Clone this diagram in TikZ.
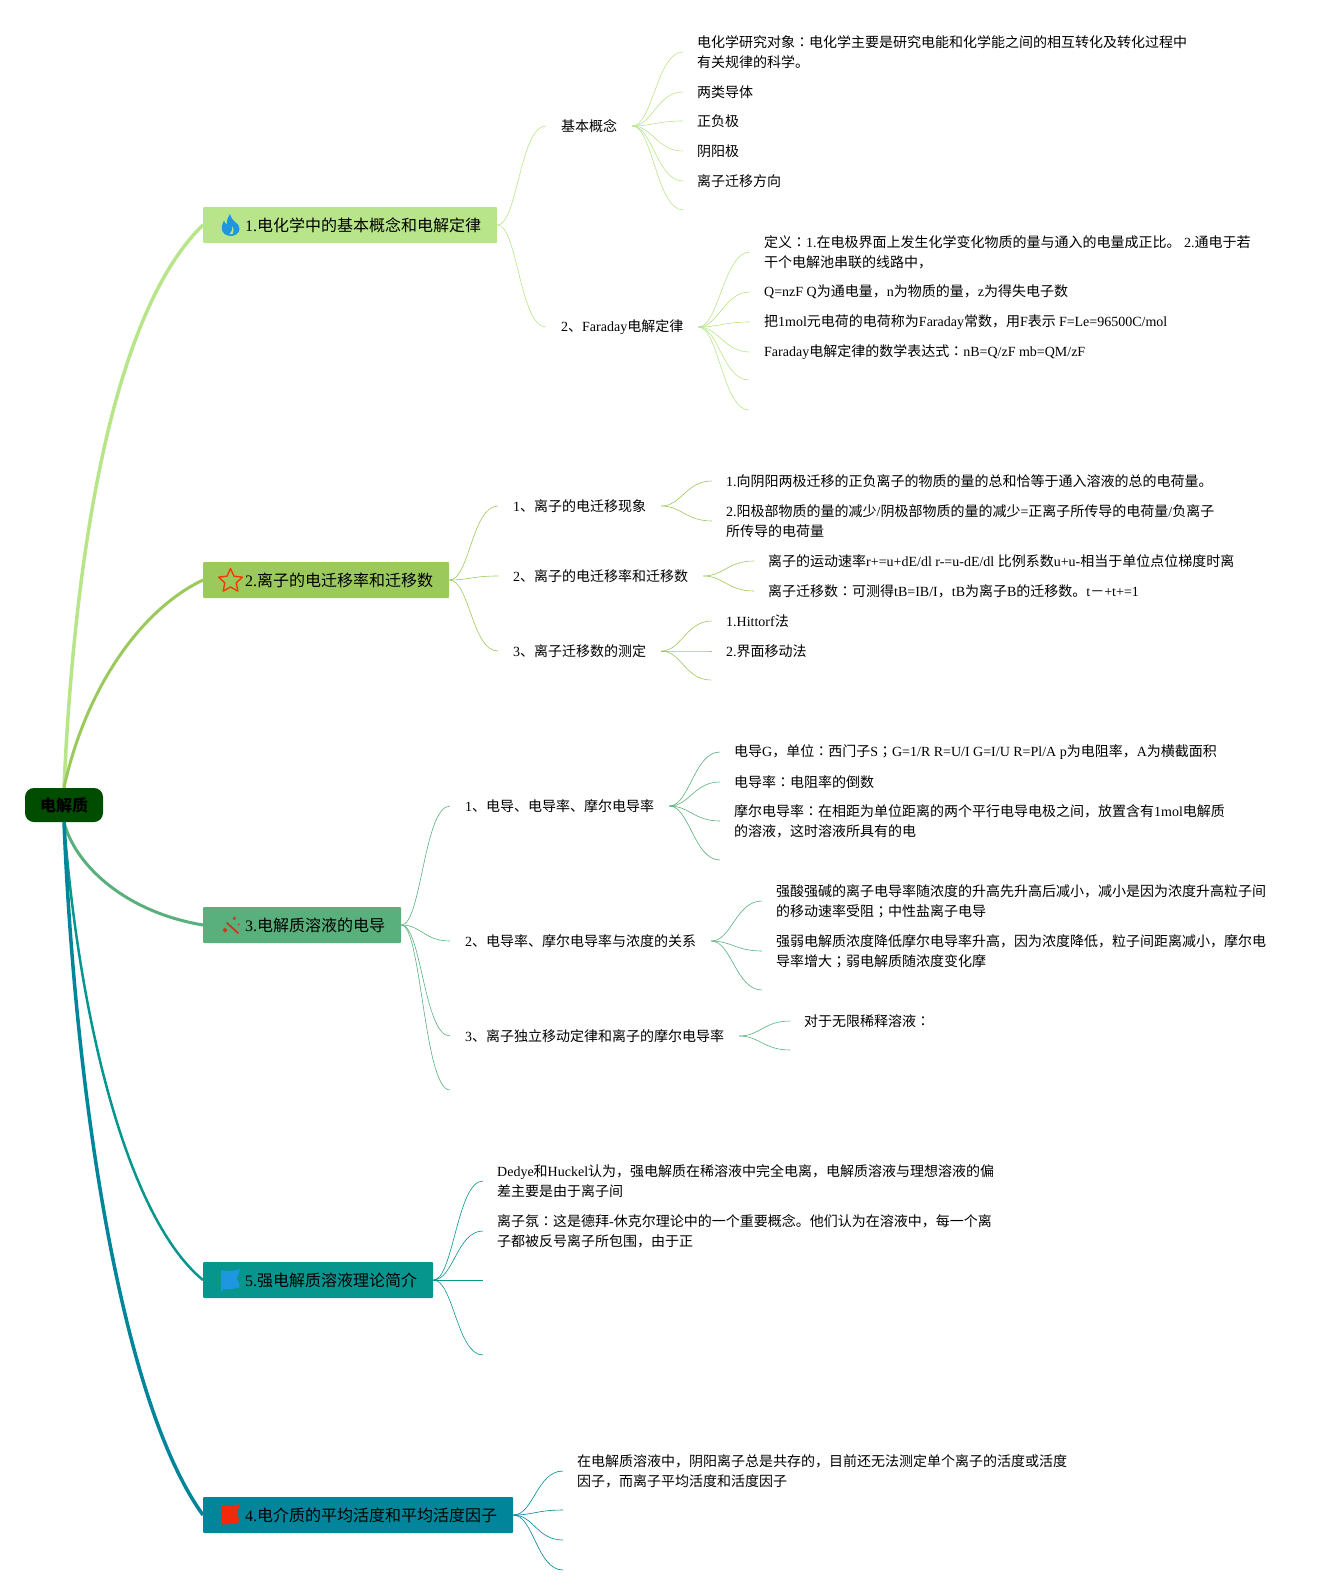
\documentclass[tikz,border=0pt]{standalone}
\usepackage{fontspec}
\setmainfont{Noto Sans CJK SC}
\newfontfamily\enfont{Liberation Serif}
\newfontfamily\tcfont{Noto Sans CJK TC}
\newcommand{\la}[1]{{\enfont #1}}
\newcommand{\pc}[1]{{\tcfont #1}}
\newcommand{\bt}[1]{\hspace*{26pt}\raisebox{-1pt}{#1}}
\usetikzlibrary{shapes.geometric,calc}
\definecolor{cone}{HTML}{B8E58A}
\definecolor{ctwo}{HTML}{9CC95B}
\definecolor{cthree}{HTML}{5AB07C}
\definecolor{cfive}{HTML}{06968E}
\definecolor{cfour}{HTML}{00859A}
\definecolor{croot}{HTML}{004D00}
\definecolor{iblue}{HTML}{1E96E0}
\definecolor{ired}{HTML}{F02A0A}
\definecolor{iwand}{HTML}{C8391F}

\begin{document}
\begin{tikzpicture}[x=1pt,y=-1pt]
\tikzstyle{rt} = [fill=croot,rounded corners=9pt,minimum width=78pt,minimum height=34pt,inner sep=0pt,font=\fontsize{16}{20}\selectfont\bfseries]
\tikzstyle{bn} = [anchor=west,rounded corners=1pt,minimum height=36pt,inner xsep=16pt,inner ysep=0pt,font=\fontsize{16}{20}\selectfont]
\tikzstyle{sb} = [anchor=west,inner xsep=15pt,inner ysep=0pt,font=\fontsize{14}{20.3}\selectfont]
\tikzstyle{item} = [anchor=west,align=left,inner xsep=14pt,inner ysep=0pt,font=\fontsize{14}{20.3}\selectfont]
\tikzstyle{fan} = [line width=.6pt,to path={.. controls ($(\tikztostart)+(20,0)$) and ($(\tikztotarget)+(-26,0)$) .. (\tikztotarget)}]
\useasboundingbox (0,0) rectangle (1336,1595);
% main topics
\node[rt] (root) at (64,805) {\raisebox{-1pt}{电解质}};
\node[bn,fill=cone] (b1) at (203,225) {\bt{\la{1.}电化学中的基本概念和电解定律}};
\node[bn,fill=ctwo] (b2) at (203,580) {\bt{\la{2.}离子的电迁移率和迁移数}};
\node[bn,fill=cthree] (b3) at (203,925) {\bt{\la{3.}电解质溶液的电导}};
\node[bn,fill=cfive] (b5) at (203,1280) {\bt{\la{5.}强电解质溶液理论简介}};
\node[bn,fill=cfour] (b4) at (203,1515) {\bt{\la{4.}电介质的平均活度和平均活度因子}};
\draw [cone,line width=3.5pt] (root.north) .. controls (77,500) and (125,300) .. (b1.west);
\draw [ctwo,line width=3pt] (root.north) .. controls (85,690) and (140,610) .. (b2.west);
\draw [cthree,line width=3pt] (root.south) .. controls (75,865) and (125,912) .. (b3.west);
\draw [cfive,line width=2.5pt] (root.south) .. controls (80,1030) and (130,1220) .. (b5.west);
\draw [cfour,line width=3.5pt] (root.south) .. controls (75,1090) and (120,1400) .. (b4.west);
% icons
\fill[iblue] (230,214) .. controls (231,218) and (233,220) .. (235,222) .. controls (238,224) and (239.5,226) .. (239.5,229) .. controls (239.5,233) and (235,236) .. (231,236) .. controls (226,236) and (221.7,233) .. (221.7,228) .. controls (221.7,225) and (223,223) .. (224,220.5) .. controls (224.5,222.5) and (225.5,223.5) .. (227,224.5) .. controls (226.5,220) and (228,217) .. (230,214) -- cycle;
\fill[cone] (232,226) .. controls (233,229) and (235,231) .. (233,233.5) .. controls (232,234.5) and (230,234.5) .. (229.5,234) .. controls (232,232) and (233,229) .. (232,226) -- cycle;
\node[star,star points=5,star point ratio=2.1,minimum size=25pt,inner sep=0pt,draw=ired!80!orange,line width=1.4pt,line join=round] (ic2) at (230.5,581) {};
\draw[iwand,line width=1.8pt] (226.7,922.7) -- (238.3,933.3);
\fill[iwand] (234.3,916.3) -- (236,918.3) -- (234.3,920.3) -- (232.6,918.3) -- cycle;
\fill[iwand] (238.7,923.3) -- (239.7,924.3) -- (238.7,925.3) -- (237.7,924.3) -- cycle;
\fill[iwand] (225,927.5) -- (227.5,930) -- (225,932.5) -- (222.5,930) -- cycle;
\fill[iblue] (221,1270) .. controls (227,1272) and (234,1271) .. (240,1269) -- (237,1278) -- (240,1287) .. controls (234,1289) and (227,1290) .. (222,1289) -- (222,1292) -- (221,1292) -- cycle;
\fill[ired] (221,1505) .. controls (227,1507) and (234,1506) .. (240,1504) -- (237,1513) -- (240,1522) .. controls (234,1524) and (227,1525) .. (222,1524) -- (222,1527) -- (221,1527) -- cycle;
% topic 1
\node[sb] (s1) at (546,126) {基本概念};
\node[sb] (s2) at (546,327) {\la{2}、\la{Faraday}电解定律};
\node[item] (a1) at (683,52) {电化学研究对象\pc{：}电化学主要是研究电能和化学能之间的相互转化及转化过程中\\有关规律的科学。};
\node[item] (a2) at (683,92) {两类导体};
\node[item] (a3) at (683,121) {正负极};
\node[item] (a4) at (683,151) {阴阳极};
\node[item] (a5) at (683,181) {离子迁移方向};
\coordinate (a6) at (683,210);
\node[item] (c1) at (750,252) {定义\pc{：}\la{1.}在电极界面上发生化学变化物质的量与通入的电量成正比。\la{ 2.}通电于若\\干个电解池串联的线路中，};
\node[item] (c2) at (750,292) {\la{Q=nzF Q}为通电量，\la{n}为物质的量，\la{z}为得失电子数};
\node[item] (c3) at (750,322) {把\la{1mol}元电荷的电荷称为\la{Faraday}常数，用\la{F}表示 \la{F=Le=96500C/mol}};
\node[item] (c4) at (750,352) {\la{Faraday}电解定律的数学表达式\pc{：}\la{nB=Q/zF mb=QM/zF}};
\coordinate (c5) at (749,380);
\coordinate (c6) at (749,410);
\draw[cone,fan] (b1.east) to (s1.west);
\draw[cone,fan] (b1.east) to (s2.west);
\foreach \e in {a1.west,a2.west,a3.west,a4.west,a5.west,a6} \draw[cone,fan] (s1.east) to (\e);
\foreach \e in {c1.west,c2.west,c3.west,c4.west,c5,c6} \draw[cone,fan] (s2.east) to (\e);
% topic 2
\node[sb] (s3) at (498,506) {\la{1}、离子的电迁移现象};
\node[sb] (s4) at (498,576) {\la{2}、离子的电迁移率和迁移数};
\node[sb] (s5) at (498,651) {\la{3}、离子迁移数的测定};
\node[item] (d1) at (712,481) {\la{1.}向阴阳两极迁移的正负离子的物质的量的总和恰等于通入溶液的总的电荷量。};
\node[item] (d2) at (712,521) {\la{2.}阳极部物质的量的减少\la{/}阴极部物质的量的减少\la{=}正离子所传导的电荷量\la{/}负离子\\所传导的电荷量};
\node[item] (e1) at (754,561) {离子的运动速率\la{r+=u+dE/dl r-=u-dE/dl }比例系数\la{u+u-}相当于单位点位梯度时离};
\node[item] (e2) at (754,591) {离子迁移数\pc{：}可测得\la{tB=IB/I}，\la{tB}为离子\la{B}的迁移数。\la{t}－\la{+t+=1}};
\node[item] (f1) at (712,621) {\la{1.Hittorf}法};
\node[item] (f2) at (712,651) {\la{2.}界面移动法};
\coordinate (f3) at (711,680);
\foreach \e in {s3,s4,s5} \draw[ctwo,fan] (b2.east) to (\e.west);
\foreach \e in {d1,d2} \draw[ctwo,fan] (s3.east) to (\e.west);
\foreach \e in {e1,e2} \draw[ctwo,fan] (s4.east) to (\e.west);
\foreach \e in {f1.west,f2.west,f3} \draw[ctwo,fan] (s5.east) to (\e);
% topic 3
\node[sb] (s6) at (450,806) {\la{1}、电导、电导率、摩尔电导率};
\node[sb] (s7) at (450,941) {\la{2}、电导率、摩尔电导率与浓度的关系};
\node[sb] (s8) at (450,1036) {\la{3}、离子独立移动定律和离子的摩尔电导率};
\coordinate (s9) at (450,1090);
\node[item] (g1) at (720,752) {电导\la{G}，单位\pc{：}西门子\la{S}\pc{；}\la{G=1/R R=U/I G=I/U R=Pl/A p}为电阻率，\la{A}为横截面积};
\node[item] (g2) at (720,782) {电导率\pc{：}电阻率的倒数};
\node[item] (g3) at (720,821) {摩尔电导率\pc{：}在相距为单位距离的两个平行电导电极之间，放置含有\la{1mol}电解质\\的溶液，这时溶液所具有的电};
\coordinate (g4) at (720,860);
\node[item] (h1) at (762,901) {强酸强碱的离子电导率随浓度的升高先升高后减小，减小是因为浓度升高粒子间\\的移动速率受阻\pc{；}中性盐离子电导};
\node[item] (h2) at (762,951) {强弱电解质浓度降低摩尔电导率升高，因为浓度降低，粒子间距离减小，摩尔电\\导率增大\pc{；}弱电解质随浓度变化摩};
\coordinate (h3) at (762,990);
\node[item] (j1) at (790,1021) {对于无限稀释溶液\pc{：}};
\coordinate (j2) at (790,1050);
\foreach \e in {s6.west,s7.west,s8.west,s9} \draw[cthree,fan] (b3.east) to (\e);
\foreach \e in {g1.west,g2.west,g3.west,g4} \draw[cthree,fan] (s6.east) to (\e);
\foreach \e in {h1.west,h2.west,h3} \draw[cthree,fan] (s7.east) to (\e);
\foreach \e in {j1.west,j2} \draw[cthree,fan] (s8.east) to (\e);
% topic 5
\node[item] (k1) at (483,1181) {\la{Dedye}和\la{Huckel}认为，强电解质在稀溶液中完全电离，电解质溶液与理想溶液的偏\\差主要是由于离子间};
\node[item] (k2) at (483,1231) {离子氛\pc{：}这是德拜\la{-}休克尔理论中的一个重要概念。他们认为在溶液中，每一个离\\子都被反号离子所包围，由于正};
\coordinate (k3) at (483,1280);
\coordinate (k4) at (483,1355);
\foreach \e in {k1.west,k2.west,k3,k4} \draw[cfive,fan] (b5.east) to (\e);
% topic 4
\node[item] (m1) at (563,1471) {在电解质溶液中，阴阳离子总是共存的，目前还无法测定单个离子的活度或活度\\因子，而离子平均活度和活度因子};
\coordinate (m2) at (563,1510);
\coordinate (m3) at (563,1540);
\coordinate (m4) at (563,1570);
\foreach \e in {m1.west,m2,m3,m4} \draw[cfour,fan] (b4.east) to (\e);
\end{tikzpicture}
\end{document}
